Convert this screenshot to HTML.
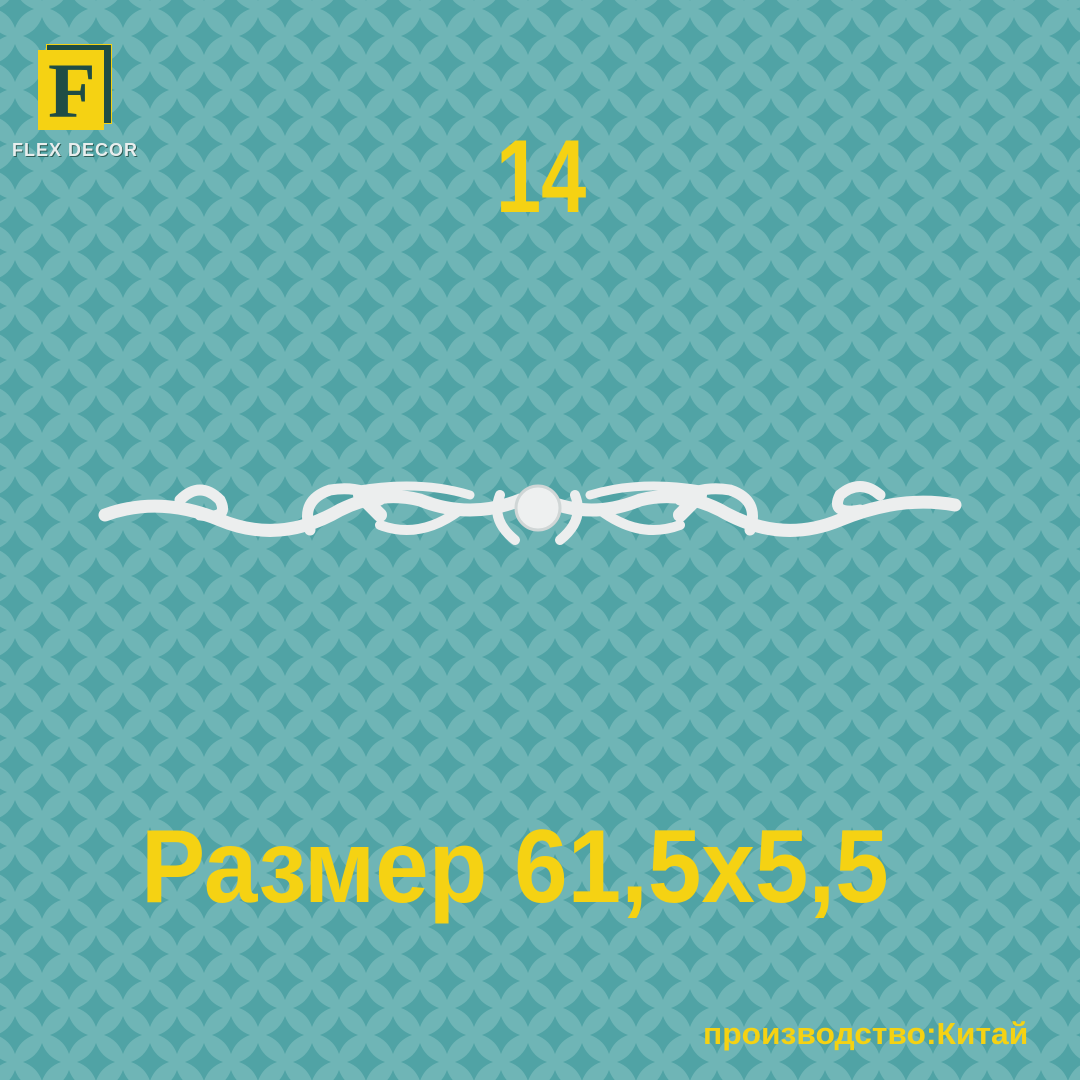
<!DOCTYPE html>
<html><head><meta charset="utf-8"><style>
html,body{margin:0;padding:0;width:1080px;height:1080px;overflow:hidden}
.t{position:absolute;font-family:"Liberation Sans",sans-serif;font-weight:bold;color:#f5d213;white-space:nowrap;transform-origin:0 0}
</style></head><body>
<svg width="1080" height="1080" style="position:absolute;left:0;top:0">
<defs>
<path id="st" d="M0,-19 Q5,-5 19,0 Q5,5 0,19 Q-5,5 -19,0 Q-5,-5 0,-19Z" fill="#50a3a5"/>
<pattern id="p" x="-12" y="-18" width="54" height="54" patternUnits="userSpaceOnUse">
<rect width="54" height="54" fill="#6fb5b6"/>
<use href="#st" x="0" y="0"/><use href="#st" x="54" y="0"/><use href="#st" x="0" y="54"/><use href="#st" x="54" y="54"/><use href="#st" x="27" y="27"/>
</pattern>
</defs>
<rect width="1080" height="1080" fill="url(#p)"/>
<g fill="none" stroke="#eceeee" stroke-linecap="round">
<path d="M105,515 Q160,495 220,520 Q280,545 340,510 Q380,490 420,500 Q470,520 520,500" stroke-width="13"/>
<path d="M955,505 Q900,495 840,520 Q780,545 720,510 Q680,490 640,500 Q590,520 545,500" stroke-width="13"/>
<path d="M180,500 Q200,480 220,500 Q230,520 200,515" stroke-width="11"/>
<path d="M880,495 Q860,478 840,495 Q830,515 860,510" stroke-width="11"/>
<path d="M310,530 Q300,500 330,490 Q360,485 380,500" stroke-width="11"/>
<path d="M750,530 Q760,500 730,490 Q700,485 680,500" stroke-width="11"/>
<path d="M360,490 Q420,480 470,495 M700,490 Q640,480 590,495" stroke-width="9"/>
<path d="M380,525 Q420,540 460,510 M680,525 Q640,540 600,510" stroke-width="10"/>
<path d="M360,495 L380,515 M700,495 L680,515" stroke-width="14"/>
<circle cx="538" cy="508" r="22" fill="#eef0f0" stroke="#d0d6d6" stroke-width="3"/>
<path d="M500,495 Q490,520 515,540 M575,495 Q585,520 560,540" stroke-width="10"/>
</g>
</svg>
<div style="position:absolute;left:38px;top:44px">
<div style="position:absolute;left:8px;top:0;width:64px;height:78px;background:#1f4d45;border:1px solid #f5d213"></div>
<div style="position:absolute;left:0;top:6px;width:66px;height:80px;background:#f5d213"></div>
<div style="position:absolute;left:10px;top:12px;font:bold 78px/70px 'Liberation Serif',serif;color:#1f4d45">F</div>
</div>
<div class="t" style="left:12px;top:140px;font-size:18px;color:#e9eeee;letter-spacing:1px;text-shadow:1px 1px 0 #2e5e58">FLEX DECOR</div>
<div class="t" style="left:496px;top:118px;font-size:104px;transform:scaleX(0.78)">14</div>
<div class="t" style="left:141px;top:808px;font-size:104px;transform:scaleX(0.925)">Размер 61,5x5,5</div>
<div class="t" style="left:703px;top:1016px;font-size:31px;transform:scaleX(1.025)">производство:Китай</div>
</body></html>
